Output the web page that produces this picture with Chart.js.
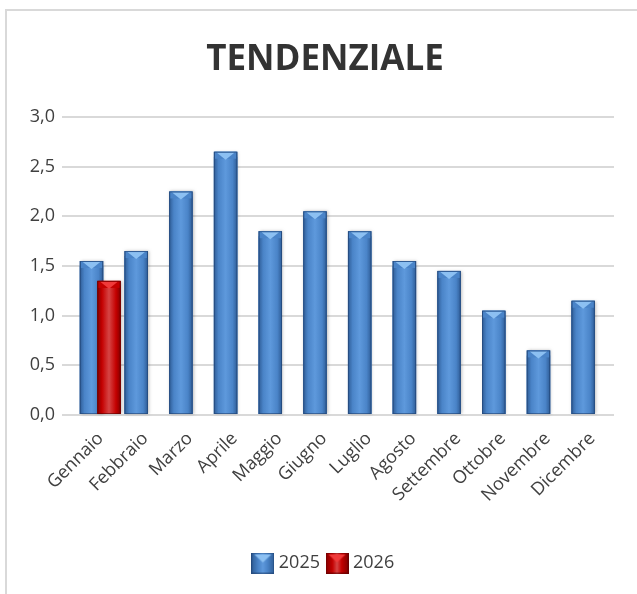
<!DOCTYPE html>
<html>
<head>
<meta charset="utf-8">
<script src="https://cdn.jsdelivr.net/npm/chart.js@4.4.1/dist/chart.umd.min.js"></script>
<style>
  body { margin: 0; background: #fff; width: 637px; height: 594px; overflow: hidden; }
  #box { position: absolute; left: 5px; top: 9px; width: 640px; height: 600px;
         border-left: 2px solid #d9d9d9; border-top: 2px solid #d9d9d9; background: #fff; }
  canvas { position: absolute; left: 0; top: 0; }
</style>
</head>
<body>
<div id="box"><canvas id="chart" width="636" height="583"></canvas></div>
<script>
const months = ['Gennaio', 'Febbraio', 'Marzo', 'Aprile', 'Maggio', 'Giugno',
  'Luglio', 'Agosto', 'Settembre', 'Ottobre', 'Novembre', 'Dicembre'];
const values2025 = [1.5, 1.6, 2.2, 2.6, 1.8, 2.0, 1.8, 1.5, 1.4, 1.0, 0.6, 1.1];
const values2026 = [1.3, null, null, null, null, null, null, null, null, null, null, null];
const yMin = 0;
const yMax = 3;
const yStep = 0.5;

const textColor = '#404040';
const font = "'Open Sans', sans-serif";

const blue = { edge: '#2e5c96', mid: '#4a84c8', light: '#5e99dc', cap: '#8cc0f2', line: 'rgba(30,60,105,0.55)' };
const red = { edge: '#820000', mid: '#c40000', light: '#d64444', cap: '#f03a3a', line: 'rgba(90,0,0,0.6)' };

// 3D-ish column: horizontal shading plus a bevelled top
function drawColumn(ctx, x, y, base, w, pal) {
  var l = x - w / 2, r = x + w / 2, top = y - 5;
  ctx.save();
  ctx.shadowColor = 'rgba(0,0,0,0.25)';
  ctx.shadowBlur = 3;
  ctx.shadowOffsetX = 1;
  ctx.fillStyle = pal.mid;
  ctx.fillRect(l, top, w, base - top);
  ctx.restore();
  var g = ctx.createLinearGradient(l, 0, r, 0);
  g.addColorStop(0, pal.edge);
  g.addColorStop(0.2, pal.mid);
  g.addColorStop(0.5, pal.light);
  g.addColorStop(0.8, pal.mid);
  g.addColorStop(1, pal.edge);
  ctx.fillStyle = g;
  ctx.fillRect(l, top, w, base - top);
  ctx.fillStyle = pal.mid;
  ctx.fillRect(l + 1, top, w - 2, 7);
  ctx.fillStyle = pal.cap;
  ctx.beginPath();
  ctx.moveTo(l + 3, top + 1);
  ctx.lineTo(r - 3, top + 1);
  ctx.lineTo(x, y + 3);
  ctx.closePath();
  ctx.fill();
  ctx.strokeStyle = pal.line;
  ctx.lineWidth = 1;
  ctx.strokeRect(l + 0.5, top + 0.5, w - 1, base - top - 1);
}

function makeIcon(pal) {
  var cv = document.createElement('canvas');
  cv.width = 23;
  cv.height = 21;
  var c = cv.getContext('2d');
  var g = c.createLinearGradient(0, 0, 23, 0);
  g.addColorStop(0, pal.edge);
  g.addColorStop(0.3, pal.mid);
  g.addColorStop(0.5, pal.light);
  g.addColorStop(0.7, pal.mid);
  g.addColorStop(1, pal.edge);
  c.fillStyle = g;
  c.fillRect(0, 0, 23, 21);
  c.fillStyle = pal.cap;
  c.beginPath();
  c.moveTo(3, 2);
  c.lineTo(20, 2);
  c.lineTo(11.5, 10);
  c.closePath();
  c.fill();
  c.strokeStyle = pal.line;
  c.strokeRect(0.5, 0.5, 22, 20);
  return cv;
}

const columnPlugin = {
  id: 'columns',
  afterDatasetsDraw(chart) {
    var ctx = chart.ctx;
    [[1, blue], [2, red]].forEach(function (pair) {
      var meta = chart.getDatasetMeta(pair[0]);
      meta.data.forEach(function (bar, i) {
        var raw = chart.data.datasets[pair[0]].data[i].y;
        if (raw === null) return;
        var p = bar.getProps(['x', 'y', 'base', 'width'], true);
        drawColumn(ctx, p.x, p.y, p.base, p.width, pair[1]);
      });
    });
  }
};

const icons = { '2025': makeIcon(blue), '2026': makeIcon(red) };

const barShape = { categoryPercentage: 1.175, barPercentage: 1.34 };

new Chart(document.getElementById('chart'), {
  type: 'bar',
  data: {
    datasets: [
      Object.assign({ label: '', data: months.map((m, i) => ({ x: i, y: null })) }, barShape),
      Object.assign({ label: '2025', backgroundColor: blue.mid,
        data: months.map((m, i) => ({ x: i, y: values2025[i] })) }, barShape),
      Object.assign({ label: '2026', backgroundColor: red.mid,
        data: months.map((m, i) => ({ x: i, y: values2026[i] })) }, barShape)
    ]
  },
  options: {
    responsive: false,
    animation: false,
    layout: { padding: { top: 0, left: 0, right: 0, bottom: 12 } },
    plugins: {
      tooltip: { enabled: false },
      title: {
        display: true,
        text: 'TENDENZIALE',
        color: '#333333',
        font: { family: "'Liberation Sans Narrow', 'Open Sans', sans-serif", size: 35, weight: 'bold' },
        padding: { top: 28, bottom: 36 }
      },
      legend: {
        position: 'bottom',
        labels: {
          color: textColor,
          font: { family: font, size: 18 },
          usePointStyle: true,
          pointStyleWidth: 14,
          padding: 10,
          filter: item => item.text !== '',
          generateLabels(chart) {
            return Chart.defaults.plugins.legend.labels.generateLabels(chart).map(function (item) {
              item.pointStyle = icons[item.text] || 'rect';
              return item;
            });
          }
        }
      }
    },
    scales: {
      x: {
        type: 'linear',
        offset: false,
        min: -0.66,
        max: 11.69,
        grid: { display: false },
        border: { display: false },
        afterFit(scale) { scale.height = 129; },
        ticks: {
          stepSize: 1,
          includeBounds: false,
          autoSkip: false,
          maxRotation: 45,
          minRotation: 45,
          labelOffset: 9,
          padding: 5,
          color: textColor,
          font: { family: font, size: 18 },
          callback: v => months[v]
        }
      },
      y: {
        min: yMin,
        max: yMax,
        afterFit(scale) { scale.width = 55; },
        border: { display: false },
        grid: { color: '#d9d9d9', lineWidth: 2, drawTicks: false },
        ticks: {
          stepSize: yStep,
          padding: 7,
          color: textColor,
          font: { family: font, size: 18 },
          callback: v => v.toFixed(1).replace('.', ',')
        }
      },
      // empty margin on the right, so title and legend centre like the original
      spacer: {
        position: 'right',
        afterFit(scale) { scale.width = 29; },
        grid: { display: false },
        border: { display: false },
        ticks: { display: false }
      }
    }
  },
  plugins: [columnPlugin]
});
</script>
</body>
</html>
